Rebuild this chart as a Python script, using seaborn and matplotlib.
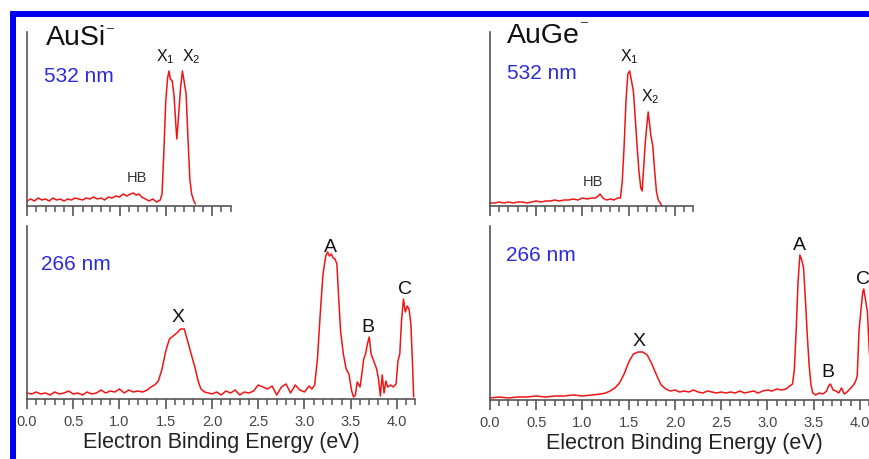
import numpy as np
import pandas as pd
import matplotlib
matplotlib.use("Agg")
import matplotlib.pyplot as plt
from matplotlib.patches import Rectangle
import seaborn as sns

# ---------------- data (arbitrary intensity units) ----------------
# AuSi- 532 nm
ausi532_e = [0.00,0.04,0.08,0.12,0.16,0.20,0.24,0.28,0.32,0.36,0.40,0.44,0.48,0.52,0.56,0.60,
             0.64,0.68,0.72,0.76,0.80,0.84,0.88,0.92,0.96,1.00,1.04,1.08,1.12,1.15,1.18,1.21,
             1.24,1.28,1.32,1.36,1.40,1.44,1.46,1.48,1.50,1.52,1.535,1.55,1.57,1.59,1.61,1.62,
             1.64,1.66,1.68,1.70,1.72,1.74,1.76,1.78,1.80,1.82]
ausi532_i = [5,7,5,8,6,7,5,8,6,7,5,7,6,8,7,6,8,7,9,7,8,6,9,8,10,9,12,10,12,13,11,12,9,7,5,7,4,6,
             12,55,105,128,135,127,125,110,80,67,92,118,135,124,112,68,27,12,6,2]

# AuGe- 532 nm
auge532_e = [0.00,0.05,0.10,0.15,0.20,0.25,0.30,0.35,0.40,0.45,0.50,0.55,0.60,0.65,0.70,0.75,
             0.80,0.85,0.90,0.95,1.00,1.05,1.10,1.14,1.17,1.19,1.22,1.26,1.30,1.34,1.38,1.41,
             1.43,1.45,1.47,1.49,1.51,1.53,1.55,1.57,1.59,1.61,1.63,1.645,1.66,1.68,1.695,1.71,
             1.725,1.74,1.76,1.78,1.80,1.82,1.84,1.86]
auge532_i = [3,3,4,3,4,3,4,4,3,4,5,4,5,5,6,5,6,6,7,6,8,7,8,8,10,12,8,6,7,6,8,8,
             25,60,105,132,135,125,115,88,60,35,18,15,37,65,80,94,
             82,70,60,35,14,6,3,0]

# AuSi- 266 nm
ausi266_e = [0.00,0.05,0.10,0.15,0.20,0.25,0.30,0.35,0.40,0.45,0.50,0.55,0.60,0.65,0.70,0.75,
             0.80,0.85,0.90,0.95,1.00,1.05,1.10,1.15,1.20,1.25,1.30,
             1.34,1.38,1.42,1.46,1.50,1.54,1.58,1.62,1.66,1.70,1.73,1.76,1.79,1.82,1.85,1.88,1.92,
             1.96,2.00,2.05,2.10,2.15,2.20,2.25,2.30,2.35,2.40,2.45,2.50,2.55,2.60,2.65,2.70,
             2.75,2.80,2.85,2.90,2.95,3.00,3.05,3.08,3.11,
             3.14,3.17,3.20,3.23,3.25,3.27,3.29,3.31,3.33,3.35,3.37,3.39,3.42,3.45,3.48,3.51,
             3.53,3.55,3.57,3.60,3.62,3.64,3.66,3.68,3.70,3.72,3.74,3.76,3.78,3.80,3.82,3.84,
             3.86,3.88,3.90,3.93,3.96,3.99,4.01,4.03,4.05,4.07,4.09,4.11,4.13,4.15,4.17,4.18]
ausi266_i = [6,5,7,5,6,4,7,5,6,8,5,6,4,7,5,6,9,6,8,7,10,6,9,7,8,7,9,
             12,14,18,30,48,60,63,66,70,70,60,50,40,30,18,10,7,
             6,5,7,4,8,6,9,4,7,6,8,14,12,10,13,4,
             12,15,6,14,9,7,13,10,14,
             40,85,125,143,147,143,145,141,140,135,100,68,45,30,25,8,
             2,4,17,12,25,40,45,55,62,45,40,35,30,20,3,24,
             6,18,12,14,12,15,38,45,80,100,87,93,90,75,30,2]

# AuGe- 266 nm
auge266_e = [0.00,0.10,0.20,0.30,0.40,0.50,0.60,0.70,0.80,0.90,1.00,1.10,1.20,1.25,1.30,1.35,
             1.40,1.45,1.50,1.55,1.60,1.65,1.70,1.75,1.80,1.85,1.90,1.95,2.00,2.05,2.10,2.15,
             2.20,2.25,2.30,2.35,2.40,2.45,2.50,2.55,2.60,2.65,2.70,2.75,2.80,2.85,2.90,2.95,
             3.00,3.05,3.10,3.15,3.20,3.24,3.27,3.29,3.31,3.33,3.35,3.37,3.39,3.41,3.43,3.45,
             3.47,3.49,3.52,3.56,3.60,3.64,3.66,3.68,3.71,3.74,3.77,3.80,3.83,3.86,3.89,3.92,
             3.95,3.97,3.99,4.01,4.03,4.04,4.06,4.08,4.10,4.12,4.14,4.17,4.20]
auge266_i = [2,3,2,3,3,4,3,4,4,5,4,5,6,7,9,12,17,26,38,46,48,48,45,36,25,15,11,9,10,8,9,8,
             10,8,7,9,8,7,8,7,8,7,9,7,8,9,7,9,10,9,11,10,11,14,16,30,70,118,145,140,
             132,100,65,35,15,7,5,7,6,9,14,16,10,9,7,12,6,8,11,14,
             18,24,70,90,108,111,100,88,50,25,10,6,5]

red = "#f01414"
blue_txt = "#2b2bd9"
axis_col = "#555555"

sns.set_theme(style="white")
plt.rcParams["font.family"] = ["Liberation Sans", "DejaVu Sans"]
plt.rcParams["mathtext.fontset"] = "custom"
plt.rcParams["mathtext.rm"] = "Liberation Sans"
plt.rcParams["mathtext.it"] = "Liberation Sans:italic"

W, H = 870, 460
fig = plt.figure(figsize=(W / 100, H / 100), dpi=100)
fig.patch.set_facecolor("white")

PX = 92.5  # px per eV


def make_ax(x0, y_axis, y_top, xmax):
    left = x0 / W
    bottom = (H - y_axis) / H
    width = xmax * PX / W
    height = (y_axis - y_top) / H
    return fig.add_axes([left, bottom, width, height])


def style(ax, xmax, ymax, labels):
    ax.set_xlim(0, xmax)
    ax.set_ylim(0, ymax)
    for s in ["top", "right"]:
        ax.spines[s].set_visible(False)
    for s in ["left", "bottom"]:
        ax.spines[s].set_color(axis_col)
        ax.spines[s].set_linewidth(1.2)
    ax.set_yticks([])
    ax.set_xticks(np.arange(0, xmax + 0.001, 0.5))
    ax.set_xticks(np.arange(0, xmax + 0.001, 0.1), minor=True)
    ax.tick_params(axis="x", which="major", direction="out", length=7, width=1.2,
                   color=axis_col, labelsize=10.5, labelcolor="#444444", pad=4,
                   bottom=True)
    ax.tick_params(axis="x", which="minor", direction="out", length=4, width=1.1,
                   color=axis_col, bottom=True)
    if labels:
        ax.set_xticklabels([f"{v:.1f}" for v in np.arange(0, xmax + 0.001, 0.5)])
        ax.set_xlabel("Electron Binding Energy (eV)", fontsize=15.5, color="#222222",
                      labelpad=2)
    else:
        ax.set_xticklabels([])
        ax.set_xlabel("")
    ax.set_ylabel("")
    ax.patch.set_alpha(0)


def draw(ax, e, i):
    df = pd.DataFrame({"energy": e, "intensity": i})
    sns.lineplot(data=df, x="energy", y="intensity", ax=ax, color=red,
                 linewidth=1.1, estimator=None, sort=False)
    for ln in ax.lines:
        ln.set_clip_on(False)


ax1 = make_ax(27, 207, 33, 2.2)
draw(ax1, ausi532_e, ausi532_i)
style(ax1, 2.2, 174, False)

ax2 = make_ax(490, 207, 33, 2.2)
draw(ax2, auge532_e, auge532_i)
style(ax2, 2.2, 174, False)

ax3 = make_ax(27, 400, 227, 4.2)
draw(ax3, ausi266_e, ausi266_i)
style(ax3, 4.2, 173, True)

ax4 = make_ax(490, 401, 227, 4.2)
draw(ax4, auge266_e, auge266_i)
style(ax4, 4.2, 174, True)

# peak labels
lab_kw = dict(ha="center", va="center", color="#111111")
ax1.text(1.50, 150, r"X$_\mathregular{1}$", fontsize=11.5, **lab_kw)
ax1.text(1.78, 150, r"X$_\mathregular{2}$", fontsize=11.5, **lab_kw)
ax1.text(1.19, 29, "HB", fontsize=10.5, color="#333333", ha="center", va="center")
ax2.text(1.51, 150, r"X$_\mathregular{1}$", fontsize=11.5, **lab_kw)
ax2.text(1.73, 110, r"X$_\mathregular{2}$", fontsize=11.5, **lab_kw)
ax2.text(1.11, 25, "HB", fontsize=10.5, color="#333333", ha="center", va="center")

ax3.text(1.63, 82, "X", fontsize=14, **lab_kw)
ax3.text(3.28, 153, "A", fontsize=14, **lab_kw)
ax3.text(3.68, 73, "B", fontsize=14, **lab_kw)
ax3.text(4.09, 110, "C", fontsize=14, **lab_kw)
ax4.text(1.61, 59, "X", fontsize=14, **lab_kw)
ax4.text(3.35, 156, "A", fontsize=14, **lab_kw)
ax4.text(3.65, 28, "B", fontsize=14, **lab_kw)
ax4.text(4.03, 121, "C", fontsize=14, clip_on=False, **lab_kw)


# panel titles and wavelengths
def ftext(x, y, s, **kw):
    return fig.text(x / W, 1 - y / H, s, **kw)


t1 = ftext(46, 45, "AuSi", fontsize=20.5, color="#111111", va="baseline")
t2 = ftext(507, 43, "AuGe", fontsize=20.5, color="#111111", va="baseline")
ftext(44, 82, "532 nm", fontsize=15, color=blue_txt, va="baseline")
ftext(507, 79, "532 nm", fontsize=15, color=blue_txt, va="baseline")
ftext(41, 270, "266 nm", fontsize=15, color=blue_txt, va="baseline")
ftext(506, 261, "266 nm", fontsize=15, color=blue_txt, va="baseline")

fig.canvas.draw()
renderer = fig.canvas.get_renderer()
for t, ytop in [(t1, 29), (t2, 23)]:
    bb = t.get_window_extent(renderer)
    ftext(bb.x1 + 1, ytop, "\u2013", fontsize=9, color="#222222", va="center",
          ha="left")

# blue frame
frame = Rectangle((13 / W, -0.2), 1.5, (H - 14.5) / H + 0.2, transform=fig.transFigure,
                  fill=False, edgecolor="#0000f0", linewidth=4.3, clip_on=False)
fig.patches.append(frame)

fig.savefig("out.png", dpi=100)
